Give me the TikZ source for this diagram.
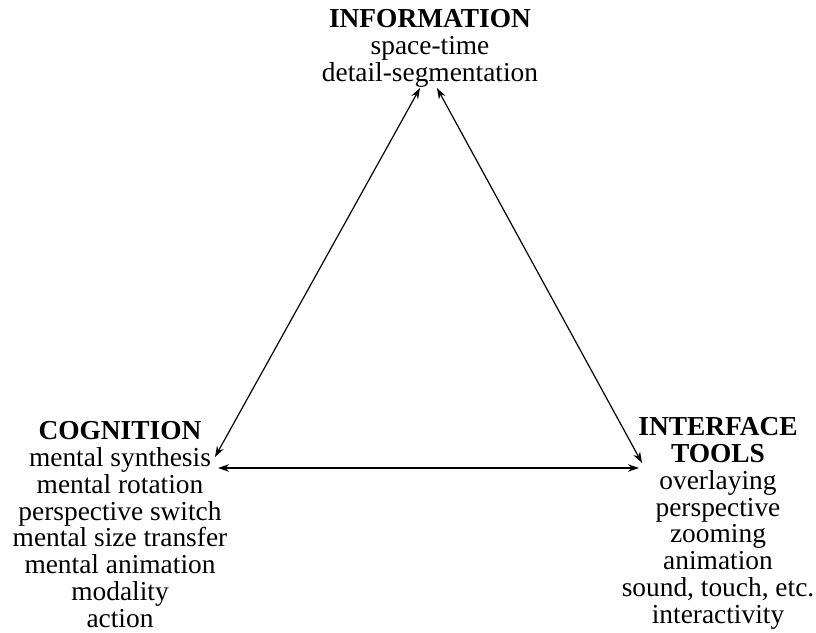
\documentclass[tikz,border=0pt]{standalone}
\usepackage{fontspec}
\setmainfont{Liberation Serif}
\usetikzlibrary{arrows.meta}

\begin{document}
\begin{tikzpicture}[x=1bp, y=-1bp,
        corner text/.style={align=center, inner sep=0pt, anchor=north,
                font=\fontsize{27.5}{27}\selectfont},
        link/.style={line width=1.2pt,
                {Stealth[length=11pt,width=7.5pt]}-{Stealth[length=11pt,width=7.5pt]}}]
        \useasboundingbox (0,0) rectangle (816,633);
        % the three corners
        \node[corner text] (info) at (430,9) {\textbf{INFORMATION}\\space-time\\detail-segmentation};
        \node[corner text] (cog) at (120,421) {\textbf{COGNITION}\\mental synthesis\\mental rotation\\perspective switch\\mental size transfer\\mental animation\\modality\\action};
        \node[corner text] (tools) at (718,417) {\textbf{INTERFACE}\\\textbf{TOOLS}\\overlaying\\perspective\\zooming\\animation\\sound, touch, etc.\\interactivity};
        % arrow ends
        \coordinate (infoL) at (420,88);
        \coordinate (infoR) at (437,88);
        \coordinate (cogU) at (215,457);
        \coordinate (cogR) at (218,468);
        \coordinate (toolsU) at (642,463);
        \coordinate (toolsL) at (639,468);
        \draw[link] (cogU) -- (infoL);
        \draw[link] (infoR) -- (toolsU);
        \draw[link] (cogR) -- (toolsL);
\end{tikzpicture}
\end{document}
